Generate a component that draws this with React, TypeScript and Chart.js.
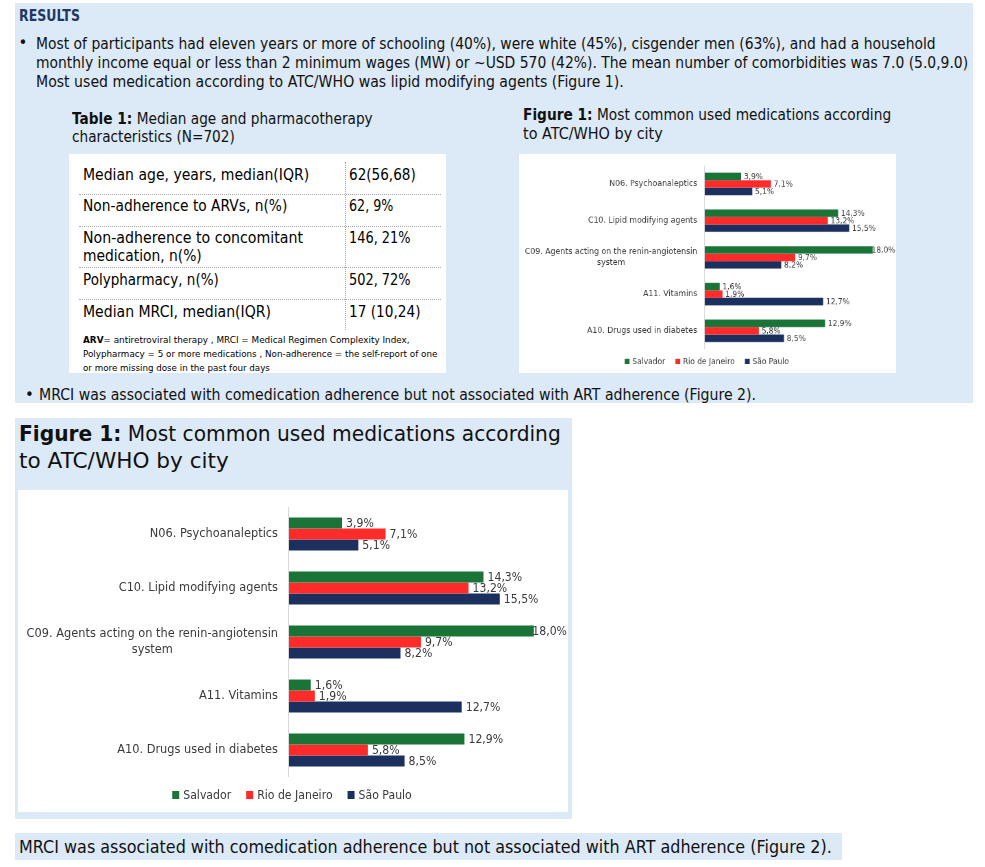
import React, { useEffect, useLayoutEffect, useRef } from 'react';
import { Chart, registerables } from 'chart.js';
Chart.register(...registerables);

// ---------- data ----------
const categories: (string | string[])[] = [
  'N06. Psychoanaleptics',
  'C10. Lipid modifying agents',
  ['C09. Agents acting on the renin-angiotensin', 'system'],
  'A11. Vitamins',
  'A10. Drugs used in diabetes',
];
const seriesNames = ['Salvador', 'Rio de Janeiro', 'São Paulo'];
const salvador = [3.9, 14.3, 18.0, 1.6, 12.9];
const rioDeJaneiro = [7.1, 13.2, 9.7, 1.9, 5.8];
const saoPaulo = [5.1, 15.5, 8.2, 12.7, 8.5];
const seriesColors = ['#1b7437', '#ff2a2a', '#1c305f'];
const xMin = 0;
const xMax = 20;

// ---------- styles ----------
const FONT = '"DejaVu Sans", Verdana, sans-serif';
const CFONT = '"DejaVu Sans"';
const BLUE = '#dce9f6';
const SX = 0.91; // horizontal squeeze to imitate a narrow humanist face
const LABEL_COLOR = '#3a3a3a';

function drawSqueezed(ctx: CanvasRenderingContext2D, text: string, x: number, y: number, align: CanvasTextAlign) {
  ctx.save();
  ctx.translate(x, y);
  ctx.scale(SX, 1);
  ctx.textAlign = align;
  ctx.textBaseline = 'middle';
  ctx.fillText(text, 0, 0);
  ctx.restore();
}

const decorPlugin = {
  id: 'decor',
  afterDatasetsDraw(chart: any) {
    const ctx: CanvasRenderingContext2D = chart.ctx;
    const area = chart.chartArea;
    const yScale = chart.scales.y;
    ctx.save();
    // axis line
    ctx.strokeStyle = '#d9d9d9';
    ctx.lineWidth = 1;
    ctx.beginPath();
    ctx.moveTo(Math.round(area.left) - 0.5, area.top);
    ctx.lineTo(Math.round(area.left) - 0.5, area.bottom);
    ctx.stroke();

    // category labels
    ctx.fillStyle = LABEL_COLOR;
    ctx.font = `12.5px ${CFONT}`;
    categories.forEach((lab, i) => {
      const lines = Array.isArray(lab) ? lab : [lab];
      const cy = yScale.getPixelForValue(i);
      const lh = 16;
      const maxW = Math.max(...lines.map((l) => ctx.measureText(l).width * SX));
      const cx = area.left - 11 - maxW / 2;
      lines.forEach((l, j) => {
        drawSqueezed(ctx, l, cx, cy + (j - (lines.length - 1) / 2) * lh, 'center');
      });
    });

    // value labels
    ctx.font = `12px ${CFONT}`;
    chart.data.datasets.forEach((ds: any, di: number) => {
      const meta = chart.getDatasetMeta(di);
      meta.data.forEach((bar: any, i: number) => {
        const v = ds.data[i] as number;
        const txt = v.toFixed(1).replace('.', ',') + '%';
        const tw = ctx.measureText(txt).width * SX;
        const lx = Math.min(bar.x + 4, chart.width - tw - 1);
        drawSqueezed(ctx, txt, lx, bar.y + 0.5, 'left');
      });
    });

    // legend
    ctx.font = `12px ${CFONT}`;
    const box = 8;
    const gapBox = 3;
    const gapItem = 15;
    const widths = seriesNames.map((n) => ctx.measureText(n).width * SX);
    const total = widths.reduce((a, b) => a + b, 0) + seriesNames.length * (box + gapBox) + gapItem * (seriesNames.length - 1);
    let lx = chart.width / 2 - 1 - total / 2;
    const ly = 305;
    seriesNames.forEach((n, i) => {
      ctx.fillStyle = seriesColors[i];
      ctx.fillRect(lx, ly - box / 2, box - 1, box);
      lx += box + gapBox;
      ctx.fillStyle = LABEL_COLOR;
      drawSqueezed(ctx, n, lx, ly + 0.5, 'left');
      lx += widths[i] + gapItem;
    });
    ctx.restore();
  },
};

function MedChart() {
  const ref = useRef<HTMLCanvasElement>(null);
  useEffect(() => {
    const chart = new Chart(ref.current as HTMLCanvasElement, {
      type: 'bar',
      data: {
        labels: categories.map((c) => (Array.isArray(c) ? c.join(' ') : c)),
        datasets: [salvador, rioDeJaneiro, saoPaulo].map((d, i) => ({
          label: seriesNames[i],
          data: d,
          backgroundColor: seriesColors[i],
          borderWidth: 0,
          categoryPercentage: 0.61,
          barPercentage: 1,
        })),
      },
      options: {
        indexAxis: 'y',
        responsive: false,
        animation: false,
        devicePixelRatio: 1,
        layout: { padding: { left: 271, right: 7, top: 17, bottom: 35 } },
        scales: {
          x: { display: false, min: xMin, max: xMax },
          y: { display: false },
        },
        plugins: { legend: { display: false }, tooltip: { enabled: false } },
      },
      plugins: [decorPlugin],
    } as any);
    return () => chart.destroy();
  }, []);
  return <canvas ref={ref} width={550} height={322} style={{ display: 'block' }} />;
}

function T({ x, y, w, size, bold, color = '#111', children }: any) {
  const ref = useRef<HTMLDivElement>(null);
  useLayoutEffect(() => {
    const el = ref.current;
    if (!el) return;
    const fit = () => {
      el.style.transform = 'none';
      const nat = el.offsetWidth;
      if (w && nat) el.style.transform = `scaleX(${w / nat})`;
    };
    fit();
    const f = (document as any).fonts;
    if (f && f.ready) f.ready.then(fit);
  }, [w]);
  return (
    <div
      ref={ref}
      style={{
        position: 'absolute',
        left: x,
        top: y - size * 0.6,
        fontSize: size,
        lineHeight: `${size * 1.2}px`,
        whiteSpace: 'nowrap',
        transformOrigin: '0 0',
        fontWeight: bold ? 700 : 400,
        color,
        fontFamily: FONT,
      }}
    >
      {children}
    </div>
  );
}

function Box({ x, y, w, h, bg, style }: any) {
  return <div style={{ position: 'absolute', left: x, top: y, width: w, height: h, background: bg, ...style }} />;
}

export default function App() {
  const seps = [194, 226, 267, 299];
  return (
    <div style={{ position: 'absolute', left: 0, top: 0, width: 985, height: 867, background: '#fff', overflow: 'hidden' }}>
      {/* top panel */}
      <Box x={15} y={3} w={958} h={400} bg={BLUE} />
      <T x={19} y={16} w={61} size={15} bold color="#1f3864">RESULTS</T>
      <T x={18.5} y={43} size={15}>•</T>
      <T x={36} y={43.5} w={900} size={15}>
        Most of participants had eleven years or more of schooling (40%), were white (45%), cisgender men (63%), and had a household
      </T>
      <T x={36} y={62.5} w={932} size={15}>
        monthly income equal or less than 2 minimum wages (MW) or ~USD 570 (42%). The mean number of comorbidities was 7.0 (5.0,9.0)
      </T>
      <T x={36} y={81.5} w={588} size={15}>
        Most used medication according to ATC/WHO was lipid modifying agents (Figure 1).
      </T>

      {/* table */}
      <T x={72} y={119} w={301} size={15}>
        <b>Table 1:</b> Median age and pharmacotherapy
      </T>
      <T x={72} y={137} w={163} size={15}>characteristics (N=702)</T>
      <Box x={69} y={154} w={377} h={219} bg="#fff" />
      {seps.map((s) => (
        <Box key={s} x={79} y={s} w={362} h={0} style={{ borderTop: '1px dotted #a8a8a8' }} />
      ))}
      <Box x={345} y={162} w={0} h={168} style={{ borderLeft: '1px dotted #a8a8a8' }} />
      <T x={83} y={175} w={226} size={15} color="#000">Median age, years, median(IQR)</T>
      <T x={349} y={175} w={67} size={15} color="#000">62(56,68)</T>
      <T x={83} y={206} w={204} size={15} color="#000">Non-adherence to ARVs, n(%)</T>
      <T x={349} y={206} w={44} size={15} color="#000">62, 9%</T>
      <T x={83} y={238} w={220} size={15} color="#000">Non-adherence to concomitant</T>
      <T x={83} y={256} w={119} size={15} color="#000">medication, n(%)</T>
      <T x={349} y={238} w={62} size={15} color="#000">146, 21%</T>
      <T x={83} y={280} w={136} size={15} color="#000">Polypharmacy, n(%)</T>
      <T x={349} y={280} w={62} size={15} color="#000">502, 72%</T>
      <T x={83} y={312} w={188} size={15} color="#000">Median MRCI, median(IQR)</T>
      <T x={349} y={312} w={72} size={15} color="#000">17 (10,24)</T>
      <T x={83} y={340} w={327} size={9.5} color="#000">
        <b>ARV</b>= antiretroviral therapy , MRCI = Medical Regimen Complexity Index,
      </T>
      <T x={83} y={354} w={354} size={9.5} color="#000">
        Polypharmacy = 5 or more medications , Non-adherence = the self-report of one
      </T>
      <T x={83} y={368} w={187} size={9.5} color="#000">or more missing dose in the past four days</T>

      {/* small figure */}
      <T x={523} y={115} w={368} size={15}>
        <b>Figure 1:</b> Most common used medications according
      </T>
      <T x={523} y={133.5} w={140} size={15}>to ATC/WHO by city</T>
      <Box x={519} y={154} w={377} h={219} bg="#fff" />
      <div style={{ position: 'absolute', left: 519, top: 154, width: 550, height: 322, transform: 'scale(0.6855, 0.68)', transformOrigin: '0 0' }}>
        <MedChart />
      </div>

      <T x={25} y={395} size={15}>•</T>
      <T x={39} y={395} w={717} size={15}>
        MRCI was associated with comedication adherence but not associated with ART adherence (Figure 2).
      </T>

      {/* bottom big figure */}
      <Box x={15} y={418} w={557} h={401} bg={BLUE} />
      <T x={19} y={434} w={542} size={22}>
        <b>Figure 1:</b> Most common used medications according
      </T>
      <T x={19} y={461} w={210} size={22}>to ATC/WHO by city</T>
      <Box x={18} y={490} w={550} h={322} bg="#fff" />
      <div style={{ position: 'absolute', left: 18, top: 490, width: 550, height: 322 }}>
        <MedChart />
      </div>

      {/* bottom bar */}
      <Box x={15} y={833} w={827} h={27} bg={BLUE} />
      <T x={19} y={847} w={813} size={17}>
        MRCI was associated with comedication adherence but not associated with ART adherence (Figure 2).
      </T>
    </div>
  );
}
